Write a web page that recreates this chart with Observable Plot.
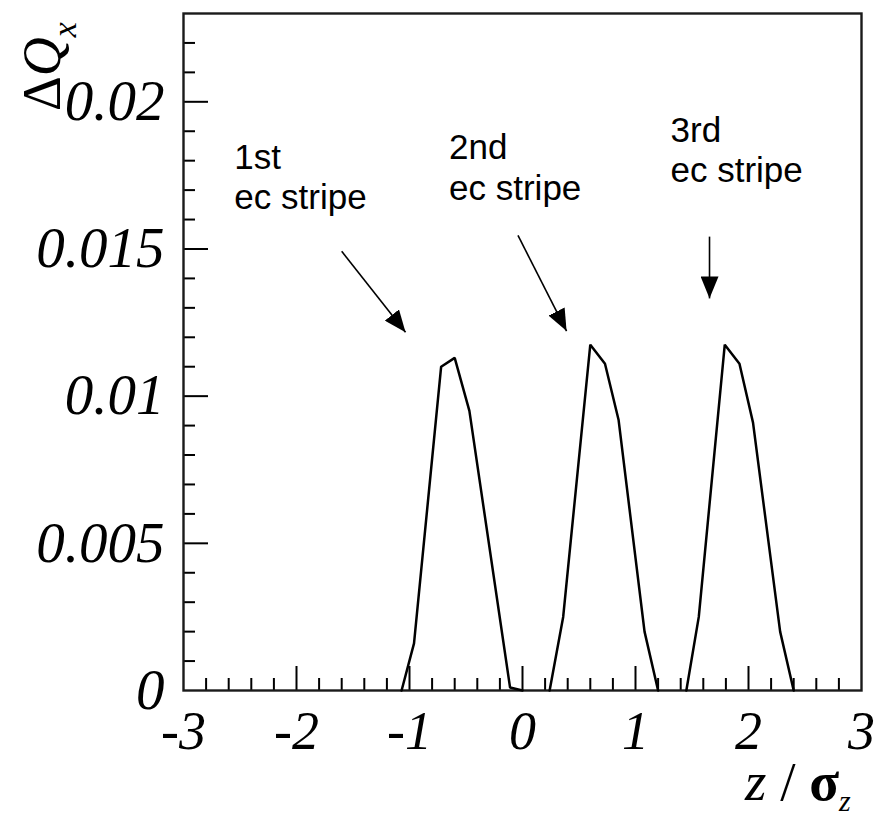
<!DOCTYPE html>
<html><head><meta charset="utf-8">
<script src="https://cdn.jsdelivr.net/npm/d3@7"></script>
<script src="https://cdn.jsdelivr.net/npm/@observablehq/plot@0.6"></script>
<style>
html,body{margin:0;padding:0;background:#fff;}
#chart svg{display:block;}
</style>
</head><body><div id="chart"></div>
<script>
// ---- data: tune-shift ΔQx versus z/σz for three e-cloud stripes ----
const peak1Z = [-1.07, -0.96, -0.72, -0.60, -0.47, -0.11, 0.00];
const peak1V = [0, 0.0016, 0.0110, 0.0113, 0.0095, 0.0001, 0];
const peak2Z = [0.24, 0.36, 0.60, 0.73, 0.85, 1.08, 1.20];
const peak2V = [0, 0.0025, 0.01175, 0.0111, 0.0092, 0.0020, 0];
const peak3Z = [1.45, 1.56, 1.79, 1.92, 2.04, 2.28, 2.40];
const peak3V = [0, 0.0025, 0.01175, 0.0111, 0.0091, 0.0020, 0];

// ---- axis ticks ----
const xTickLabels = [-3, -2, -1, 0, 1, 2, 3];
const xMajorTicks = [-2, -1, 0, 1, 2];
const xMinorTicks = [-2.8, -2.6, -2.4, -2.2, -1.8, -1.6, -1.4, -1.2, -0.8, -0.6, -0.4, -0.2,
                     0.2, 0.4, 0.6, 0.8, 1.2, 1.4, 1.6, 1.8, 2.2, 2.4, 2.6, 2.8];
const yTickLabels = [0, 0.005, 0.01, 0.015, 0.02];
const yMajorTicks = [0.005, 0.01, 0.015, 0.02];
const yMinorTicks = [0.001, 0.002, 0.003, 0.004, 0.006, 0.007, 0.008, 0.009, 0.011, 0.012,
                     0.013, 0.014, 0.016, 0.017, 0.018, 0.019, 0.021, 0.022];

// ---- annotations ----
const annFirst = ["1st", "2nd", "3rd"];
const annSecond = ["ec stripe", "ec stripe", "ec stripe"];
const annZ = [-2.55, -0.65, 1.31];
const annV1 = [0.01773, 0.01804, 0.01865];
const annV2 = [0.01637, 0.01668, 0.01726];
const arrowZ1 = [-1.60, -0.04, 1.655];
const arrowV1 = [0.01492, 0.01546, 0.01542];
const arrowZ2 = [-1.035, 0.39, 1.655];
const arrowV2 = [0.01217, 0.01221, 0.01332];

// ---- build tables ----
const curve = [];
[[peak1Z, peak1V], [peak2Z, peak2V], [peak3Z, peak3V]].forEach(([zs, vs], s) =>
  zs.forEach((z, i) => curve.push({series: s, z, v: vs[i]})));
const ann1 = annFirst.map((t, i) => ({t, z: annZ[i], v: annV1[i]}));
const ann2 = annSecond.map((t, i) => ({t, z: annZ[i], v: annV2[i]}));
const arrows = arrowZ1.map((z, i) => ({z1: z, v1: arrowV1[i], z2: arrowZ2[i], v2: arrowV2[i]}));

function filledArrow(color) {
  const m = d3.create("svg:marker")
    .attr("viewBox", "-22 -9 22 18")
    .attr("markerWidth", 22).attr("markerHeight", 18)
    .attr("markerUnits", "userSpaceOnUse")
    .attr("refX", 0).attr("refY", 0)
    .attr("orient", "auto");
  m.append("path").attr("fill", color).attr("stroke", "none").attr("d", "M-22,-9L0,0L-22,9Z");
  return m.node();
}

const noText = () => "";

const chart = Plot.plot({
  width: 880, height: 818,
  marginLeft: 183, marginRight: 19, marginTop: 13, marginBottom: 128,
  x: {domain: [-3, 3]},
  y: {domain: [0, 0.023]},
  style: {fontFamily: "Liberation Serif", background: "white", color: "black"},
  marks: [
    // tick labels
    Plot.axisX(xTickLabels, {tickSize: 0, tickPadding: 20, tickFormat: d => String(d), label: null,
      fontSize: 54, fontStyle: "italic", fontFamily: "Liberation Serif"}),
    Plot.axisY(yTickLabels, {tickSize: 0, tickPadding: 19, tickFormat: d => String(d), label: null,
      fontSize: 57, fontStyle: "italic", fontFamily: "Liberation Serif"}),
    // inward ticks
    Plot.axisX(xMajorTicks, {tickSize: -24, strokeWidth: 2, tickFormat: noText, label: null}),
    Plot.axisX(xMinorTicks, {tickSize: -12, strokeWidth: 2, tickFormat: noText, label: null}),
    Plot.axisY(yMajorTicks, {tickSize: -25, strokeWidth: 2, tickFormat: noText, label: null}),
    Plot.axisY(yMinorTicks, {tickSize: -12, strokeWidth: 2, tickFormat: noText, label: null}),
    Plot.frame({stroke: "#1a1a1a", strokeWidth: 2.4}),
    // curves
    Plot.line(curve, {x: "z", y: "v", z: "series", stroke: "black", strokeWidth: 2.5, strokeLinejoin: "miter"}),
    // annotations
    Plot.text(ann1, {x: "z", y: "v", text: "t", textAnchor: "start", lineAnchor: "bottom", fontSize: 35, fontFamily: "Liberation Sans", fill: "black"}),
    Plot.text(ann2, {x: "z", y: "v", text: "t", textAnchor: "start", lineAnchor: "bottom", fontSize: 35, fontFamily: "Liberation Sans", fill: "black"}),
    Plot.link(arrows, {x1: "z1", y1: "v1", x2: "z2", y2: "v2", stroke: "black", strokeWidth: 1.6, markerEnd: filledArrow})
  ]
});

const svg = d3.select(chart);
// y-axis title ΔQ_x (rotated)
const yt = svg.append("text")
  .attr("transform", "translate(60,111) rotate(-90)")
  .attr("text-anchor", "start")
  .attr("font-family", "Liberation Serif").attr("font-size", 54).attr("fill", "black");
yt.append("tspan").text("Δ");
yt.append("tspan").attr("font-style", "italic").text("Q");
yt.append("tspan").attr("font-style", "italic").attr("font-size", 34).attr("dy", 16).text("x");
// x-axis title z / σ_z
const xt = svg.append("text")
  .attr("x", 745).attr("y", 800)
  .attr("text-anchor", "start")
  .attr("font-family", "Liberation Serif").attr("font-size", 55).attr("fill", "black");
xt.append("tspan").attr("font-style", "italic").text("z");
xt.append("tspan").text(" / ");
xt.append("tspan").attr("font-weight", "bold").text("σ");
xt.append("tspan").attr("font-style", "italic").attr("font-size", 30).attr("dy", 11).text("z");

document.getElementById("chart").appendChild(chart);
</script>
</body></html>
